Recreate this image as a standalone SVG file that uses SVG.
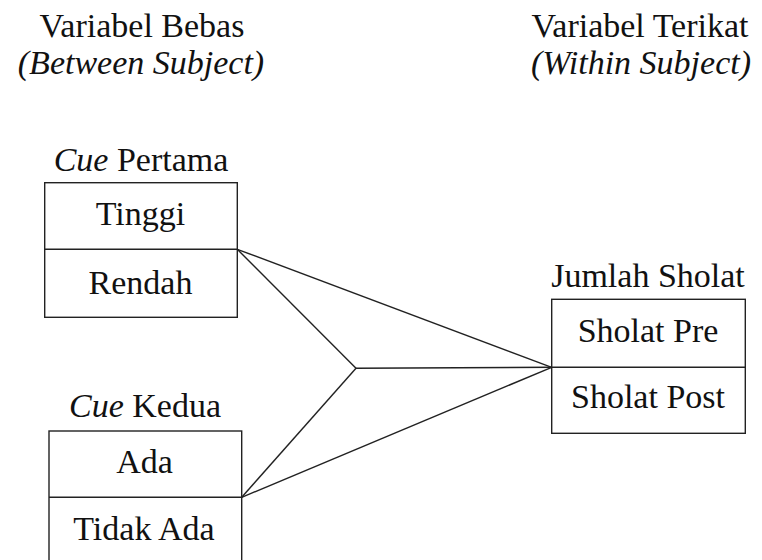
<svg xmlns="http://www.w3.org/2000/svg" width="762" height="560" viewBox="0 0 762 560">
<style>
.box{fill:none;stroke:#222;stroke-width:1.4}
.conn{fill:none;stroke:#222;stroke-width:1.4}
</style>
<rect width="762" height="560" fill="#fff"/>
<g id="header-left" font-family="Liberation Serif, Times New Roman, serif" font-size="34" fill="#111" text-anchor="middle">
<text x="142" y="37">Variabel Bebas</text>
<text x="141" y="74" font-style="italic">(Between Subject)</text>
</g>
<g id="header-right" font-family="Liberation Serif, Times New Roman, serif" font-size="34" fill="#111" text-anchor="middle">
<text x="640" y="37">Variabel Terikat</text>
<text x="641" y="74" font-style="italic">(Within Subject)</text>
</g>
<g id="connectors">
<line class="conn" x1="237.3" y1="249.3" x2="551.7" y2="367.3"/>
<line class="conn" x1="237.3" y1="249.3" x2="356" y2="368.3"/>
<line class="conn" x1="241.7" y1="497.3" x2="356" y2="368.3"/>
<line class="conn" x1="241.7" y1="497.3" x2="551.7" y2="367.3"/>
<line class="conn" x1="356" y1="368.3" x2="551.7" y2="367.3"/>
</g>
<g id="cue-pertama" font-family="Liberation Serif, Times New Roman, serif" font-size="34" fill="#111" text-anchor="middle">
<text x="141" y="171"><tspan font-style="italic">Cue</tspan> Pertama</text>
<rect class="box" x="44.7" y="182.7" width="192.6" height="134.6"/>
<line class="box" x1="44.7" y1="249.3" x2="237.3" y2="249.3"/>
<text x="140.5" y="225">Tinggi</text>
<text x="140.5" y="294">Rendah</text>
</g>
<g id="cue-kedua" font-family="Liberation Serif, Times New Roman, serif" font-size="34" fill="#111" text-anchor="middle">
<text x="145" y="417"><tspan font-style="italic">Cue</tspan> Kedua</text>
<rect class="box" x="49" y="431" width="192.7" height="133"/>
<line class="box" x1="49" y1="497.3" x2="241.7" y2="497.3"/>
<text x="144.5" y="473">Ada</text>
<text x="144" y="540">Tidak Ada</text>
</g>
<g id="jumlah-sholat" font-family="Liberation Serif, Times New Roman, serif" font-size="34" fill="#111" text-anchor="middle">
<text x="648" y="287">Jumlah Sholat</text>
<rect class="box" x="551.7" y="299.3" width="193.6" height="134"/>
<line class="box" x1="551.7" y1="367.3" x2="745.3" y2="367.3"/>
<text x="648" y="342">Sholat Pre</text>
<text x="648" y="408">Sholat Post</text>
</g>
</svg>
